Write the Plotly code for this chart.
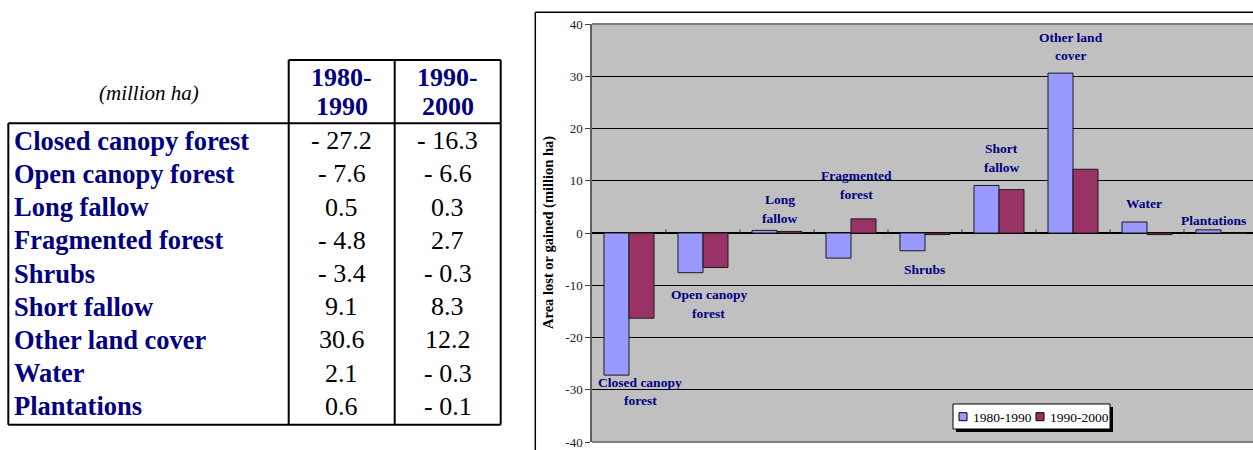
import plotly.graph_objects as go

# Net change in area by land-cover class (million ha)
categories = ["Closed canopy forest", "Open canopy forest", "Long fallow",
              "Fragmented forest", "Shrubs", "Short fallow",
              "Other land cover", "Water", "Plantations"]
change_1980_1990 = [-27.2, -7.6, 0.5, -4.8, -3.4, 9.1, 30.6, 2.1, 0.6]
change_1990_2000 = [-16.3, -6.6, 0.3, 2.7, -0.3, 8.3, 12.2, -0.3, -0.1]
period_names = ["1980-1990", "1990-2000"]
period_headers = [["1980-", "1990"], ["1990-", "2000"]]
bar_captions = [["Closed canopy", "forest"], ["Open canopy", "forest"],
                ["Long", "fallow"], ["Fragmented", "forest"], ["Shrubs"],
                ["Short", "fallow"], ["Other land", "cover"], ["Water"],
                ["Plantations"]]
y_ticks = [-40, -30, -20, -10, 0, 10, 20, 30, 40]

# caption placement in axis units: (offset from category centre, value)
caption_place = [(0.155, -30.3), (0.077, -13.6), (0.04, 4.6), (0.08, 9.2),
                 (-0.01, -6.9), (0.04, 14.4), (-0.03, 35.7), (-0.04, 5.7),
                 (-0.095, 2.35)]

W, H = 1253, 450
SERIF = "Liberation Serif"
NAVY = "#000080"
COLORS = ["#9999FF", "#993366"]


def px(x):
    return x / W


def py(y):
    return 1 - y / H


def fmt(v):
    return f"- {abs(v):.1f}" if v < 0 else f"{v:.1f}"


fig = go.Figure()
for name, vals, col in zip(period_names, [change_1980_1990, change_1990_2000], COLORS):
    fig.add_trace(go.Bar(
        x=categories, y=vals, name=name, showlegend=False,
        marker=dict(color=col, line=dict(color="#1a1a1a", width=1)),
    ))

annotations = []
shapes = []

# ---- data table on the left ----
annotations.append(dict(
    x=px(149), y=py(93), xref="paper", yref="paper", text="<i>(million ha)</i>",
    showarrow=False, xanchor="center", yanchor="middle",
    font=dict(family=SERIF, size=21, color="#000000")))
col_centres = [341.5, 447.5]
for cx, head in zip(col_centres, period_headers):
    for k, line in enumerate(head):
        annotations.append(dict(
            x=px(cx), y=py(77 + 30 * k), xref="paper", yref="paper",
            text=f"<b>{line}</b>", showarrow=False, xanchor="center",
            yanchor="middle", font=dict(family=SERIF, size=26, color=NAVY)))
row_h = 33.2
for i, cat in enumerate(categories):
    yy = py(140.7 + row_h * i)
    annotations.append(dict(
        x=px(12), y=yy, xref="paper", yref="paper", text=f"<b>{cat}</b>",
        showarrow=False, xanchor="left", yanchor="middle",
        font=dict(family=SERIF, size=26.5, color=NAVY)))
    for cx, vals in zip(col_centres, [change_1980_1990, change_1990_2000]):
        annotations.append(dict(
            x=px(cx), y=yy, xref="paper", yref="paper", text=fmt(vals[i]),
            showarrow=False, xanchor="center", yanchor="middle",
            font=dict(family=SERIF, size=26, color="#000000")))

tbl_line = dict(color="#000000", width=2)


def seg(x0, y0, x1, y1, line=tbl_line):
    shapes.append(dict(type="line", xref="paper", yref="paper",
                       x0=px(x0), y0=py(y0), x1=px(x1), y1=py(y1), line=line))


def box(x0, y0, x1, y1, fill, line):
    shapes.append(dict(type="rect", xref="paper", yref="paper",
                       x0=px(x0), y0=py(y1), x1=px(x1), y1=py(y0),
                       fillcolor=fill, line=line, layer="above"))


seg(288.7, 60, 500.7, 60)
seg(8.3, 123.3, 500.7, 123.3)
seg(8.3, 424.7, 500.7, 424.7)
seg(8.3, 123.3, 8.3, 424.7)
for xv in [288.7, 394.7, 500.7]:
    seg(xv, 60, xv, 424.7)

# ---- chart frame ----
seg(535.3, 12.3, 1260, 12.3, dict(color="#000000", width=1.5))
seg(535.3, 12.3, 535.3, 460, dict(color="#000000", width=1.5))

# plot-area border in grey over the outer gridlines
for yd in (0, 1):
    shapes.append(dict(type="line", xref="x domain", yref="y domain",
                       x0=0, x1=1, y0=yd, y1=yd,
                       line=dict(color="#808080", width=2), layer="above"))

# category separators on the zero line
for k in range(1, len(categories)):
    shapes.append(dict(type="line", xref="x", yref="y", x0=k - 0.5, x1=k - 0.5,
                       y0=0, y1=0.7, line=dict(color="#404040", width=1),
                       layer="above"))

# captions next to bar groups
for i, (cap, (dx, yv)) in enumerate(zip(bar_captions, caption_place)):
    n = len(cap)
    for k, line in enumerate(cap):
        shift = ((n - 1) / 2 - k) * 18.5
        annotations.append(dict(
            x=i + dx, y=yv, xref="x", yref="y", text=f"<b>{line}</b>",
            showarrow=False, xanchor="center", yanchor="middle", yshift=shift,
            font=dict(family=SERIF, size=13.5, color=NAVY)))

# y-axis title
annotations.append(dict(
    x=px(548), y=0, xref="paper", yref="y", text="<b>Area lost or gained (million ha)</b>",
    showarrow=False, textangle=-90, xanchor="center", yanchor="middle",
    font=dict(family=SERIF, size=14.5, color="#000000")))

# legend: shadow, frame, swatches and labels
box(956, 407, 1113, 432, "#000000", dict(width=0))
box(953, 404, 1110, 429, "#FFFFFF", dict(color="#000000", width=1))
for name, col, sx in zip(period_names, COLORS, [959, 1036]):
    box(sx, 412.7, sx + 8, 420.7, col, dict(color="#000000", width=1))
    annotations.append(dict(
        x=px(sx + 12), y=py(417), xref="paper", yref="paper", text=name,
        showarrow=False, xanchor="left", yanchor="middle",
        font=dict(family=SERIF, size=13.5, color="#000000")))

fig.update_layout(
    width=W, height=H,
    margin=dict(l=0, r=0, t=0, b=0, autoexpand=False),
    paper_bgcolor="white",
    plot_bgcolor="#C0C0C0",
    barmode="group", bargap=0.324, bargroupgap=0,
    showlegend=False,
    xaxis=dict(domain=[px(592), 1], range=[-0.5, 8.5 - 5 / 74],
               showticklabels=False, showgrid=False, ticks="",
               showline=False, zeroline=False, automargin=False),
    yaxis=dict(domain=[py(442), py(24)], range=[-40, 40], tickvals=y_ticks,
               ticktext=[str(t) for t in y_ticks], automargin=False,
               ticks="outside", ticklen=5, tickcolor="#404040",
               tickfont=dict(family=SERIF, size=13, color="#202020"),
               showgrid=True, gridcolor="#000000", gridwidth=1,
               zeroline=True, zerolinecolor="#000000", zerolinewidth=1.5,
               showline=True, linecolor="#606060", linewidth=1.5),
    annotations=annotations,
    shapes=shapes,
)

fig.write_html("out.html")
